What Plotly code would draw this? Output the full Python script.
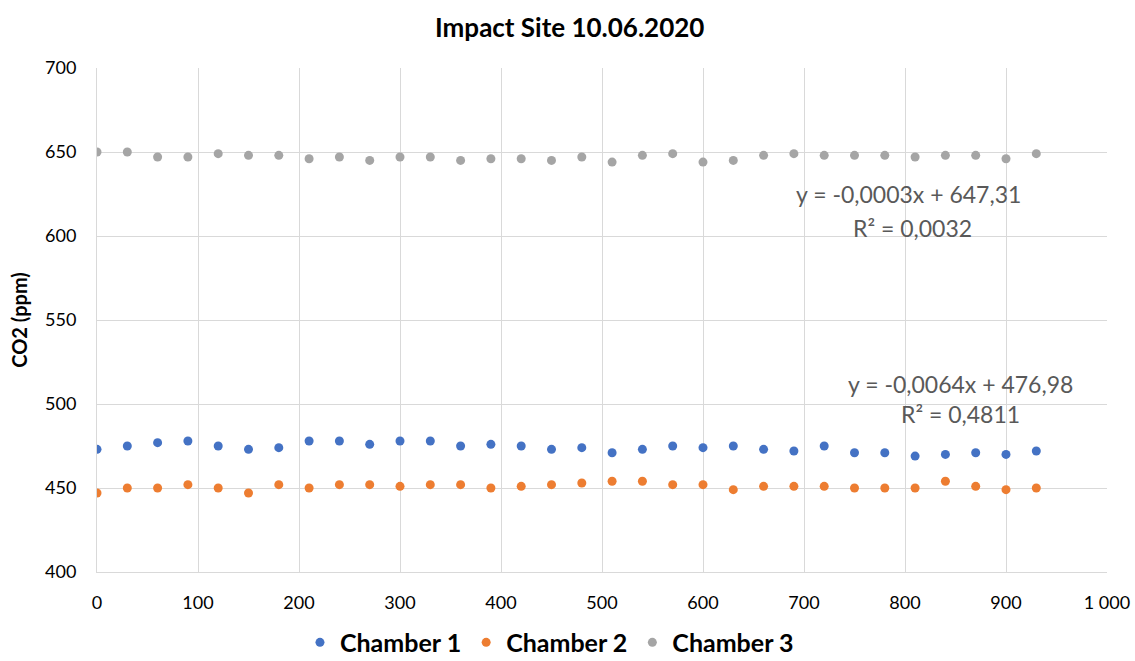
import plotly.graph_objects as go

# Measurement times (s) and CO2 readings (ppm) per chamber
time_s = [0, 30, 60, 90, 120, 150, 180, 210, 240, 270, 300, 330, 360, 390, 420, 450,
          480, 510, 540, 570, 600, 630, 660, 690, 720, 750, 780, 810, 840, 870, 900, 930]
chamber1 = [473, 475, 477, 478, 475, 473, 474, 478, 478, 476, 478, 478, 475, 476, 475, 473,
            474, 471, 473, 475, 474, 475, 473, 472, 475, 471, 471, 469, 470, 471, 470, 472]
chamber2 = [447, 450, 450, 452, 450, 447, 452, 450, 452, 452, 451, 452, 452, 450, 451, 452,
            453, 454, 454, 452, 452, 449, 451, 451, 451, 450, 450, 450, 454, 451, 449, 450]
chamber3 = [650, 650, 647, 647, 649, 648, 648, 646, 647, 645, 647, 647, 645, 646, 646, 645,
            647, 644, 648, 649, 644, 645, 648, 649, 648, 648, 648, 647, 648, 648, 646, 649]

series_names = ["Chamber 1", "Chamber 2", "Chamber 3"]
series_colors = ["#4472C4", "#ED7D31", "#A5A5A5"]

x_ticks = [0, 100, 200, 300, 400, 500, 600, 700, 800, 900, 1000]
x_ticklabels = ["0", "100", "200", "300", "400", "500", "600", "700", "800", "900", "1 000"]
y_ticks = [400, 450, 500, 550, 600, 650, 700]

# Linear trend labels: (text, x, y) in data coordinates
trend_texts = [
    ("y = -0,0003x + 647,31", 803, 625),
    ("R² = 0,0032", 807, 605),
    ("y = -0,0064x + 476,98", 855, 512),
    ("R² = 0,4811", 855, 494),
]

FONT = "Lato, 'Open Sans', sans-serif"

fig = go.Figure()
for name, ys, col in zip(series_names, [chamber1, chamber2, chamber3], series_colors):
    fig.add_trace(go.Scatter(
        x=time_s, y=ys, mode="markers", name=name,
        marker=dict(color=col, size=9, line=dict(width=0)),
    ))

for text, xv, yv in trend_texts:
    fig.add_annotation(x=xv, y=yv, text=text, showarrow=False,
                       font=dict(family=FONT, size=23, color="#595959"),
                       xanchor="center", yanchor="middle")

fig.update_layout(
    width=1135, height=661,
    margin=dict(l=97, r=28, t=68, b=89, autoexpand=False),
    paper_bgcolor="white", plot_bgcolor="white",
    font=dict(family=FONT, color="#000000"),
    title=dict(text="<b>Impact Site 10.06.2020</b>", x=0.502, xanchor="center",
               y=0.958, yanchor="middle", font=dict(size=26, family=FONT, color="#000")),
    showlegend=True,
    legend=dict(orientation="h", x=0.448, xanchor="center", y=-0.14, yanchor="middle",
                font=dict(size=25, family=FONT, color="#000", weight="bold"),
                itemsizing="trace", itemwidth=30, tracegroupgap=0),
    xaxis=dict(range=[0, 1000], tickvals=x_ticks, ticktext=x_ticklabels,
               showgrid=True, gridcolor="#D9D9D9", gridwidth=1, zeroline=False,
               showline=True, linecolor="#D9D9D9", ticks="", automargin=False,
               tickfont=dict(size=18, color="#000"), ticklabelstandoff=14),
    yaxis=dict(range=[400, 700], tickvals=y_ticks,
               showgrid=True, gridcolor="#D9D9D9", gridwidth=1, zeroline=False,
               showline=True, linecolor="#D9D9D9", ticks="", automargin=False,
               tickfont=dict(size=18, color="#000"), ticklabelstandoff=16,
               title=dict(text="<b>CO2 (ppm)</b>", font=dict(size=20, family=FONT, color="#000"),
                          standoff=12)),
)

fig.write_html("out.html")
